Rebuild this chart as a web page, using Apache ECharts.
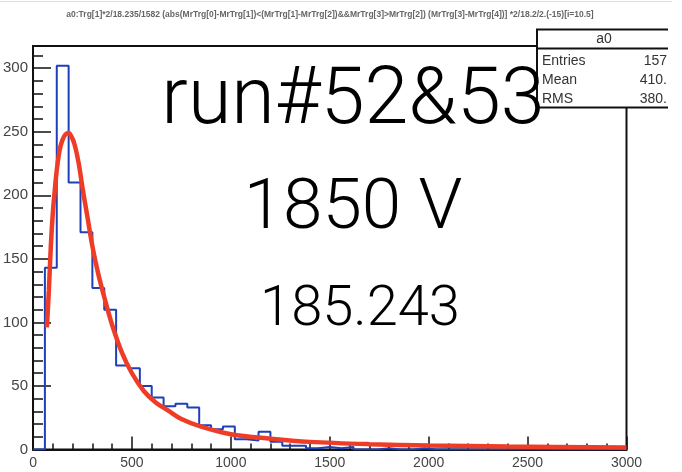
<!DOCTYPE html>
<html>
<head>
<meta charset="utf-8">
<script src="https://cdn.jsdelivr.net/npm/echarts@6/dist/echarts.min.js"></script>
<style>
html,body{margin:0;padding:0;background:#fff;}
#c{width:682px;height:472px;}
</style>
</head>
<body>
<div id="c"></div>
<script>
// ---- data ----
const binWidth = 60;
const histCounts = [0,143,302,210,171,127,110,66,64,50,41,34,36,33,19,16,18,8,7,14,6,3,3,1,2,1,2,0,0,1,0,0,1,0,0,0,0,0,0,0,0,0,0,0,0,0,0,0,0,0];
const fitX = [70,80,90,100,110,120,135,150,165,180,195,210,230,250,275,300,330,360,400,450,500,560,620,680,750,850,1000,1200,1400,1700,2000,2400,3000];
const fitY = [96,125,160,186,204,220,236,244,248,249,246,240,226,206,183,160,138,120,98,76,60,46,37,31,24,18,12,8.5,6,4.2,3.2,2.3,1.6];
const xTicks = [0,500,1000,1500,2000,2500,3000];
const yTicks = [0,50,100,150,200,250,300];
const titleText = "a0:Trg[1]*2/18.235/1582 (abs(MrTrg[0]-MrTrg[1])<(MrTrg[1]-MrTrg[2])&&MrTrg[3]>MrTrg[2]) (MrTrg[3]-MrTrg[4])] *2/18.2/2.(-15)[i=10.5]";
const statsName = "a0";
const statsRows = [["Entries","157"],["Mean","410."],["RMS","380."]];
const bigTexts = ["run#52&53","1850 V","185.243"];

// ---- build ----
const histData = histCounts.map((v,i)=>[i*binWidth, v]);
histData.push([histCounts.length*binWidth, histCounts[histCounts.length-1]]);
const fitData = fitX.map((x,i)=>[x, fitY[i]]);

const chart = echarts.init(document.getElementById('c'), null, {renderer:'canvas'});
const yMax = 317.5;
const gridL = 32, gridT = 46, gridR = 55.5, gridB = 22.5;
const lblFont = 'Liberation Sans';

const option = {
  animation:false,
  backgroundColor:'#fff',
  grid:{left:gridL, top:gridT, right:gridR, bottom:gridB, show:true, borderColor:'#111', borderWidth:2, backgroundColor:'transparent'},
  xAxis:{
    type:'value', min:0, max:3000, interval:500,
    axisLine:{show:true, onZero:false, lineStyle:{color:'#111', width:2}},
    axisTick:{show:true, inside:true, length:13, lineStyle:{color:'#111', width:1.5}},
    minorTick:{show:true, splitNumber:5, length:6, lineStyle:{color:'#111', width:1.5}},
    axisLabel:{show:true, margin:7, fontSize:14, color:'#444', fontFamily:lblFont,
      formatter:v=> xTicks.includes(v) ? String(v) : ''},
    splitLine:{show:false}
  },
  yAxis:[{
    type:'value', min:0, max:yMax, interval:50,
    axisLine:{show:true, onZero:false, lineStyle:{color:'#111', width:2}},
    axisTick:{show:true, inside:true, length:18, lineStyle:{color:'#111', width:1.5}},
    axisLabel:{show:true, margin:5, fontSize:15, color:'#444', fontFamily:lblFont, showMaxLabel:false,
      formatter:v=> yTicks.includes(v) ? String(v) : ''},
    splitLine:{show:false}
  },{
    type:'value', min:0, max:yMax, interval:10, position:'left',
    axisLine:{show:false},
    axisTick:{show:true, inside:true, length:10, lineStyle:{color:'#111', width:1.5}},
    axisLabel:{show:false},
    splitLine:{show:false}
  }],
  series:[{
    type:'line', step:'end', data:histData, symbol:'none',
    lineStyle:{color:'#1d3fb8', width:2}, z:2
  },{
    type:'line', data:fitData, symbol:'none', smooth:0.35,
    lineStyle:{color:'#ee3c26', width:4.5}, z:3
  }],
  graphic:[
    {type:'line', shape:{x1:0,y1:1.5,x2:672,y2:1.5}, style:{stroke:'#ddd', lineWidth:1}},
    {type:'text', x:330, y:15, style:{text:titleText, font:'bold 8.5px Liberation Sans', fill:'#666', align:'center', verticalAlign:'middle'}},
    // stats box
    {type:'rect', shape:{x:537, y:29.5, width:150, height:78}, style:{fill:'#fff', stroke:'#111', lineWidth:2}, z:10},
    {type:'line', shape:{x1:537,y1:48.5,x2:682,y2:48.5}, style:{stroke:'#111', lineWidth:2}, z:11},
    {type:'text', x:604, y:39, style:{text:statsName, font:'14px Liberation Sans', fill:'#333', align:'center', verticalAlign:'middle'}, z:11},
    ...statsRows.flatMap((r,i)=>[
      {type:'text', x:542, y:61+i*19.3, style:{text:r[0], font:'14px Liberation Sans', fill:'#333', align:'left', verticalAlign:'middle'}, z:11},
      {type:'text', x:667, y:61+i*19.3, style:{text:r[1], font:'14px Liberation Sans', fill:'#333', align:'right', verticalAlign:'middle'}, z:11}
    ]),
    {type:'rect', shape:{x:668, y:27, width:14, height:90}, style:{fill:'#fff'}, z:12},
    // big annotations
    {type:'text', x:353, y:103, style:{text:bigTexts[0], font:'300 79px Roboto', fill:'#000', align:'center', verticalAlign:'middle'}, z:20},
    {type:'text', x:353, y:210, style:{text:bigTexts[1], font:'300 71px Roboto', fill:'#000', align:'center', verticalAlign:'middle'}, z:20},
    {type:'text', x:360, y:311, style:{text:bigTexts[2], font:'300 56px Roboto', fill:'#000', align:'center', verticalAlign:'middle'}, z:20}
  ]
};
chart.setOption(option);
</script>
</body>
</html>
